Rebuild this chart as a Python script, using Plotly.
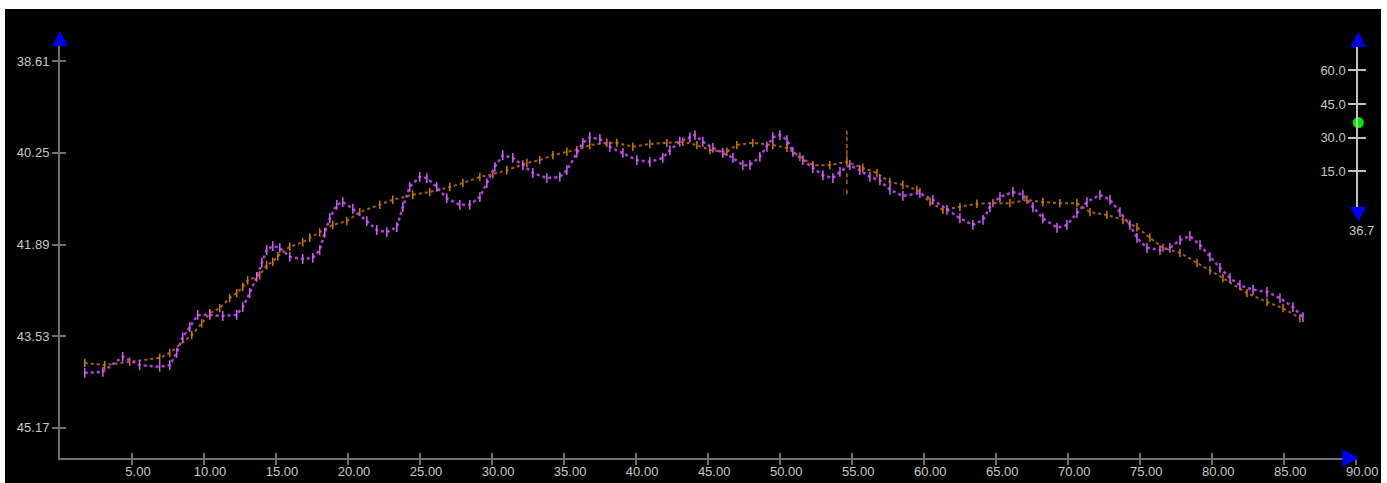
import plotly.graph_objects as go

# ---------------- data ----------------
violet_x = [1.72, 2.97, 4.35, 5.53, 6.92, 7.62, 8.10, 8.52, 9.01, 9.56, 10.40, 11.30, 12.27, 12.69,
            13.17, 13.66, 14.01, 14.35, 14.77, 15.26, 15.95, 16.85, 17.55, 18.03, 18.38, 18.73,
            19.22, 19.63, 20.33, 21.30, 21.99, 22.69, 23.38, 23.80, 24.28, 24.98, 25.47, 26.16,
            26.85, 27.76, 28.45, 29.15, 29.63, 30.19, 30.74, 31.44, 32.13, 32.83, 33.80, 34.70,
            35.19, 35.88, 36.30, 36.78, 37.48, 38.17, 39.08, 40.05, 40.95, 41.85, 42.34, 43.03,
            43.73, 44.08, 44.63, 45.33, 46.02, 46.72, 47.41, 47.90, 48.59, 49.08, 49.49, 49.98,
            50.47, 50.88, 51.58, 52.27, 52.97, 53.66, 54.15, 54.84, 55.53, 56.23, 56.92, 57.62,
            58.52, 59.70, 60.60, 61.58, 62.48, 63.38, 64.08, 64.56, 65.26, 66.16, 66.85, 67.55,
            68.24, 69.22, 69.91, 70.60, 71.30, 72.20, 72.90, 73.59, 74.28, 74.77, 75.47, 76.37,
            77.06, 77.76, 78.45, 79.15, 79.84, 80.53, 81.23, 81.92, 82.83, 83.80, 84.70, 85.60, 86.30]
violet_y = [44.19, 44.17, 43.90, 44.05, 44.08, 44.05, 43.83, 43.55, 43.37, 43.15, 43.15, 43.17, 43.15, 43.01,
            42.76, 42.47, 42.22, 41.99, 41.92, 41.95, 42.11, 42.15, 42.13, 41.99, 41.68, 41.42,
            41.18, 41.13, 41.25, 41.47, 41.63, 41.67, 41.58, 41.22, 40.86, 40.68, 40.70, 40.86,
            41.06, 41.18, 41.18, 41.04, 40.79, 40.50, 40.29, 40.34, 40.47, 40.61, 40.70, 40.68,
            40.56, 40.25, 40.07, 39.97, 40.00, 40.14, 40.25, 40.38, 40.41, 40.34, 40.20, 40.05,
            39.97, 39.93, 40.05, 40.16, 40.25, 40.34, 40.47, 40.47, 40.32, 40.14, 39.97, 39.93,
            40.02, 40.23, 40.38, 40.52, 40.65, 40.70, 40.59, 40.47, 40.56, 40.68, 40.74, 40.91,
            41.02, 40.97, 41.09, 41.27, 41.42, 41.54, 41.45, 41.22, 41.04, 40.95, 41.00, 41.22,
            41.42, 41.59, 41.54, 41.33, 41.13, 41.00, 41.09, 41.31, 41.54, 41.77, 41.95, 41.99,
            41.95, 41.81, 41.74, 41.90, 42.11, 42.31, 42.49, 42.62, 42.70, 42.74, 42.85, 43.01, 43.19]

orange_x = [1.72, 3.10, 4.84, 6.92, 7.62, 9.15, 9.84, 10.40, 11.09, 11.78, 12.27, 12.69, 13.03, 13.87,
            14.35, 14.77, 15.12, 15.95, 16.85, 17.34, 18.03, 18.94, 19.91, 20.81, 22.20, 23.10,
            24.49, 25.67, 27.06, 27.97, 29.15, 30.05, 31.02, 32.41, 33.31, 34.22, 35.19, 35.88,
            36.78, 37.97, 38.66, 39.77, 40.95, 42.13, 43.24, 44.22, 45.12, 46.30, 46.99, 48.10,
            49.49, 50.47, 51.37, 52.27, 53.45, 54.63, 55.74, 56.72, 57.62, 58.52, 59.49, 60.40,
            61.30, 62.48, 63.66, 64.77, 65.95, 67.13, 68.24, 69.42, 70.60, 71.51, 72.69, 73.80,
            74.77, 75.67, 76.58, 77.76, 78.94, 79.84, 80.74, 82.41, 83.80, 84.91, 86.09]
orange_y = [44.01, 44.05, 43.99, 43.92, 43.83, 43.51, 43.30, 43.12, 43.03, 42.85, 42.76, 42.65, 42.53, 42.44,
            42.26, 42.20, 42.10, 41.93, 41.85, 41.77, 41.67, 41.54, 41.47, 41.31, 41.18, 41.09,
            41.00, 40.95, 40.86, 40.79, 40.68, 40.63, 40.56, 40.43, 40.38, 40.29, 40.23, 40.20,
            40.11, 40.07, 40.07, 40.14, 40.09, 40.07, 40.05, 40.11, 40.20, 40.23, 40.11, 40.07,
            40.11, 40.16, 40.32, 40.47, 40.47, 40.41, 40.52, 40.61, 40.77, 40.82, 40.91, 41.13,
            41.27, 41.22, 41.16, 41.15, 41.15, 41.09, 41.13, 41.15, 41.15, 41.31, 41.36, 41.45,
            41.58, 41.77, 41.95, 42.04, 42.22, 42.35, 42.49, 42.76, 42.92, 43.03, 43.21]

# vertical column of orange samples at one depth
spike_x = [54.63, 54.63, 54.63, 54.63, 54.63, 54.63, 54.63, 54.63]
spike_y = [39.89, 40.00, 40.13, 40.24, 40.32, 40.65, 40.77, 40.95]

x_ticks = [5, 10, 15, 20, 25, 30, 35, 40, 45, 50, 55, 60, 65, 70, 75, 80, 85, 90]
y_ticks = [38.61, 40.25, 41.89, 43.53, 45.17]
slider_ticks = [15, 30, 45, 60]
slider_value = 36.7

# ---------------- layout constants ----------------
W, H = 1387, 483
ML, MR, MT, MB = 60, 20, 46, 25
PW, PH = W - ML - MR, H - MT - MB
X_RANGE = [0, 90]
X_DOMAIN_END = 1296.3 / PW
Y_RANGE = [45.7125, 38.336]
SLIDER_RANGE = [-0.9, 70.4]
SLIDER_DOM = [(458 - 207) / PH, (458 - 47) / PH]
SLIDER_X0 = (1358.3 - ML) / PW

AXIS_COL = "#707070"
TXT_COL = "#c8c8c8"
FONT = dict(family="Liberation Sans, Arial, sans-serif", size=13, color=TXT_COL)

fig = go.Figure()

fig.add_trace(go.Scatter(
    x=orange_x, y=orange_y, mode="lines+markers",
    line=dict(color="#a86000", width=2, dash="dot"),
    marker=dict(symbol="line-ns", size=6, line=dict(color="#d07a00", width=1.5)),
    showlegend=False, hoverinfo="skip"))
fig.add_trace(go.Scatter(
    x=spike_x, y=spike_y, mode="markers",
    marker=dict(symbol="line-ns", size=3, line=dict(color="#b06800", width=1.5)),
    showlegend=False, hoverinfo="skip"))
fig.add_trace(go.Scatter(
    x=violet_x, y=violet_y, mode="lines+markers",
    line=dict(color="#b040d8", width=2.5, dash="dot"),
    marker=dict(symbol="line-ns", size=7, line=dict(color="#d060f5", width=1.5)),
    showlegend=False, hoverinfo="skip"))

# helper (empty) traces for overlaying tick axes + slider knob
fig.add_trace(go.Scatter(x=[], y=[], xaxis="x2", yaxis="y2", showlegend=False))
fig.add_trace(go.Scatter(x=[0], y=[slider_value], xaxis="x3", yaxis="y3", mode="markers",
                         marker=dict(size=11, color="#00ee00"), cliponaxis=False,
                         showlegend=False, hoverinfo="skip"))
fig.add_trace(go.Scatter(x=[], y=[], xaxis="x3", yaxis="y4", showlegend=False))

common_x = dict(range=X_RANGE, domain=[0, X_DOMAIN_END], tickvals=x_ticks,
                ticktext=[f"{v:.2f}" for v in x_ticks], showgrid=False, zeroline=False,
                ticklen=5, tickwidth=1.5, tickcolor=AXIS_COL, tickfont=FONT, automargin=False)
common_y = dict(range=Y_RANGE, domain=[0, 1], tickvals=y_ticks,
                ticktext=[f"{v:.2f}" for v in y_ticks], showgrid=False, zeroline=False,
                ticklen=6, tickwidth=1.5, tickcolor=AXIS_COL, tickfont=FONT, automargin=False)

fig.update_layout(
    template="none",
    width=W, height=H, margin=dict(l=ML, r=MR, t=MT, b=MB, autoexpand=False),
    paper_bgcolor="black", plot_bgcolor="black",
    xaxis=dict(**common_x, ticks="outside", anchor="y", showline=True, linecolor=AXIS_COL, linewidth=2,
               ticklabelshift=6, ticklabelstandoff=-5),
    xaxis2=dict(**common_x, ticks="inside", anchor="y", overlaying="x", showticklabels=False, showline=False),
    yaxis=dict(**common_y, ticks="outside", anchor="x", showline=True, linecolor=AXIS_COL, linewidth=2),
    yaxis2=dict(**common_y, ticks="inside", anchor="x", overlaying="y", side="left",
                showticklabels=False, showline=False),
    xaxis3=dict(domain=[SLIDER_X0, 1.0], range=[0, 1], anchor="y3", visible=False, automargin=False),
    yaxis3=dict(domain=SLIDER_DOM, range=SLIDER_RANGE, anchor="x3", side="left",
                tickvals=slider_ticks, ticktext=[f"{v:.1f}" for v in slider_ticks],
                ticks="outside", ticklen=8, tickwidth=2, tickcolor="#c0c0c0",
                showline=True, linecolor="#c0c0c0", linewidth=2, showgrid=False, zeroline=False,
                tickfont=FONT, automargin=False),
    yaxis4=dict(domain=SLIDER_DOM, range=SLIDER_RANGE, anchor="x3", overlaying="y3", side="left",
                tickvals=slider_ticks, ticks="inside", ticklen=8, tickwidth=2, tickcolor="#c0c0c0",
                showticklabels=False, showline=False, showgrid=False, zeroline=False, automargin=False),
)

BLUE = "#0000ee"


def arrow(xa, ya, path):
    return dict(type="path", xref="paper", yref="paper", xsizemode="pixel", ysizemode="pixel",
                xanchor=xa, yanchor=ya, path=path, fillcolor=BLUE, line=dict(width=0), layer="above")


shapes = [
    arrow(0, 1, "M-8,0 L8,0 L0,15 Z"),                      # y-axis arrow (top)
    arrow(X_DOMAIN_END, 0, "M-14,-8.5 L-14,8.5 L3,0 Z"),     # x-axis arrow (right)
    arrow(SLIDER_X0, SLIDER_DOM[1], "M-8,0 L8,0 L0,15 Z"),   # slider top arrow
    arrow(SLIDER_X0, SLIDER_DOM[0], "M-8,0 L8,0 L0,-15 Z"),  # slider bottom arrow
    # white frame strips
    dict(type="rect", xref="paper", yref="paper", x0=-(ML + 5) / PW, x1=(5 - ML) / PW,
         y0=-(MB + 5) / PH, y1=(H - MB + 5) / PH, fillcolor="white", line=dict(width=0)),
    dict(type="rect", xref="paper", yref="paper", x0=-(ML + 5) / PW, x1=(W - ML + 5) / PW,
         y0=(H - MB - 9) / PH, y1=(H - MB + 5) / PH, fillcolor="white", line=dict(width=0)),
    dict(type="rect", xref="paper", yref="paper", x0=(1381 - ML) / PW, x1=(W - ML + 5) / PW,
         y0=-(MB + 5) / PH, y1=(H - MB + 5) / PH, fillcolor="white", line=dict(width=0)),
]
fig.update_layout(shapes=shapes)

fig.add_annotation(x=0, y=SLIDER_RANGE[0], xref="x3", yref="y3", text=f"{slider_value:.1f}",
                   showarrow=False, yanchor="top", xanchor="center", xshift=3, yshift=-14, font=FONT)

fig.write_html("out.html", config={"displayModeBar": False},
               post_script="document.body.style.margin='0';")
